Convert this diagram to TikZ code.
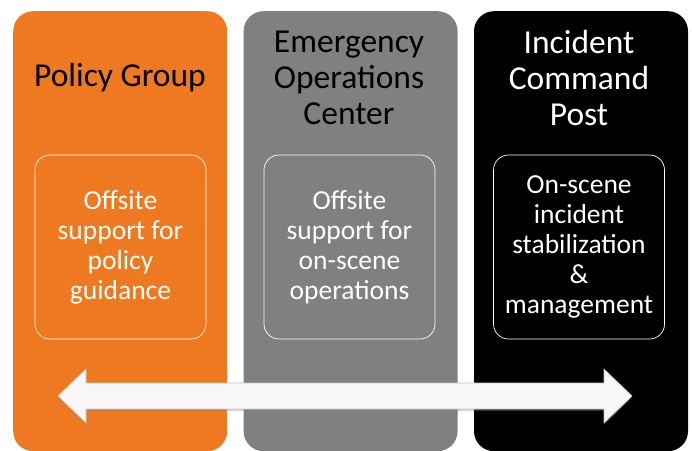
\documentclass[tikz,border=0pt]{standalone}
\usepackage{fontspec}
\setmainfont{Carlito}
\usetikzlibrary{positioning, shadows}
\definecolor{policyorange}{RGB}{239,121,33}
\definecolor{eocgray}{RGB}{128,128,128}
\tikzstyle{column} = [rectangle,
rounded corners=20pt,
minimum width=214pt,
minimum height=440pt,
anchor=north west,
inner sep=0pt]
\tikzstyle{title} = [align=center,
font=\fontsize{33.5}{36}\selectfont]
\tikzstyle{task} = [rectangle,
rounded corners=15pt,
minimum width=171pt,
minimum height=184pt,
draw=white, line width=0.7pt,
text=white,
align=center,
font=\fontsize{27.5}{30}\selectfont]
\tikzstyle{bar} = [fill=gray!6,
draw=gray!45, line width=0.6pt,
drop shadow={shadow xshift=0pt, shadow yshift=-2pt, opacity=0.35}]

\begin{document}
\begin{tikzpicture}[x=1pt, y=-1pt]
\useasboundingbox (0,0) rectangle (692,450);
\node (policy) [column, fill=policyorange] at (13,11) {};
\node (eoc) [column, fill=eocgray, right=16pt of policy.north east, anchor=north west] {};
\node (icp) [column, fill=black, right=16pt of eoc.north east, anchor=north west] {};

\node (policytitle) [title] at (120,78) {Policy Group};
\node (eoctitle) [title] at (349,78) {Emergency\\Operations\\Center};
\node (icptitle) [title, text=white] at (579,78) {Incident\\Command\\Post};

\node (policytask) [task] at (120.5,247) {Offsite\\support for\\policy\\guidance};
\node (eoctask) [task] at (349.5,247) {Offsite\\support for\\on-scene\\operations};
\node (icptask) [task] at (579,247) {On-scene\\incident\\stabilization\\\&\\management};

\coordinate (ltip) at (58,396);
\coordinate (rtip) at (632,396);
\draw [bar] (ltip) -- ++(28,-27) -- ++(0,14) -- ++(518,0) -- ++(0,-14) -- (rtip)
  -- ++(-28,27) -- ++(0,-14) -- ++(-518,0) -- ++(0,14) -- cycle;
\end{tikzpicture}
\end{document}
